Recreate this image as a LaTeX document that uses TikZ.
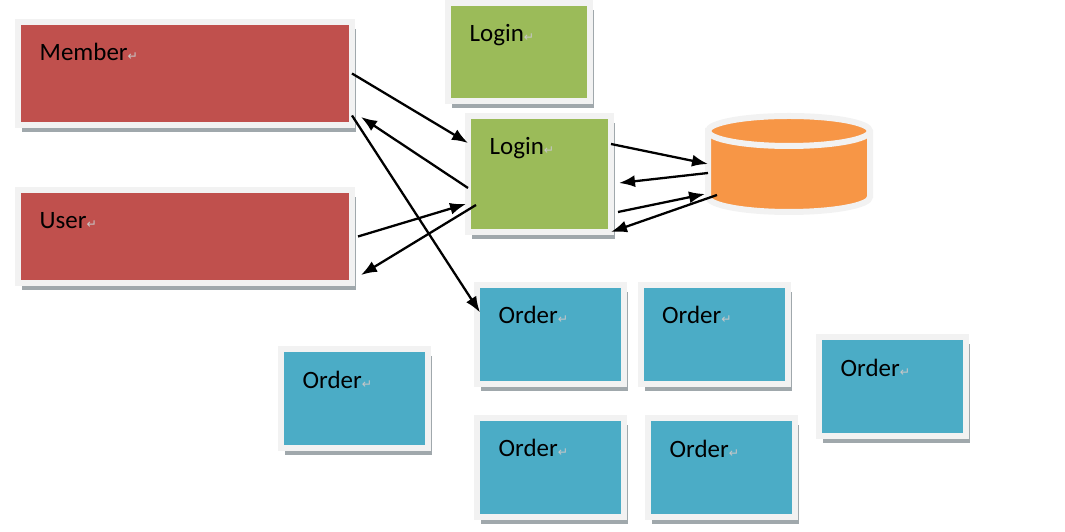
\documentclass[tikz,border=0pt]{standalone}
\usepackage{fontspec}
\setmainfont{Carlito}
\newfontfamily\symbfont{DejaVu Sans}
\usetikzlibrary{arrows.meta,shadows}
\definecolor{memberred}{HTML}{C0504D}
\definecolor{logingreen}{HTML}{9BBB59}
\definecolor{orderblue}{HTML}{4BACC6}
\definecolor{dborange}{HTML}{F79646}
\definecolor{framewhite}{HTML}{F2F2F2}
\definecolor{shadowgray}{HTML}{A0A8AC}
\newcommand{\pmark}{{\color{gray!45}\fontsize{3.5}{4}\selectfont\symbfont ↵}}
\begin{document}
\begin{tikzpicture}[
  box/.style={rectangle, draw=framewhite, line width=0.06cm, outer sep=0pt, inner sep=0pt,
    drop shadow={shadow xshift=0.04cm, shadow yshift=-0.07cm, fill=shadowgray, opacity=1}},
  boxtxt/.style={anchor=base west, xshift=0.21cm, yshift=-0.39cm, inner sep=0pt, font=\fontsize{7.1}{8.5}\selectfont},
  ordbox/.style={box, fill=orderblue, minimum width=1.47cm, minimum height=0.99cm},
  link/.style={-{Latex[length=1.6mm,width=1.2mm]}, line width=0.65pt}
]
\useasboundingbox (0,0) rectangle (10.65,-5.32);
\def\dbrx{0.81}
\def\dbry{0.15}

% Draw the boxes
\node[box, fill=memberred, minimum width=3.34cm, minimum height=1.03cm, label={[boxtxt]north west:Member\pmark}] (member) at (1.85,-0.735) {};
\node[box, fill=memberred, minimum width=3.34cm, minimum height=0.93cm, label={[boxtxt]north west:User\pmark}] (user) at (1.85,-2.365) {};
\node[box, fill=logingreen, minimum width=1.42cm, minimum height=0.98cm, label={[boxtxt]north west:Login\pmark}] (logintop) at (5.19,-0.52) {};
\node[box, fill=logingreen, minimum width=1.43cm, minimum height=1.16cm, label={[boxtxt]north west:Login\pmark}] (login) at (5.395,-1.74) {};
\node[ordbox, label={[boxtxt]north west:Order\pmark}] (orderA) at (5.505,-3.345) {};
\node[ordbox, label={[boxtxt]north west:Order\pmark}] (orderB) at (7.14,-3.345) {};
\node[ordbox, label={[boxtxt]north west:Order\pmark}] (orderC) at (8.925,-3.87) {};
\node[ordbox, label={[boxtxt]north west:Order\pmark}] (orderD) at (3.545,-3.99) {};
\node[ordbox, label={[boxtxt]north west:Order\pmark}] (orderE) at (5.505,-4.675) {};
\node[ordbox, label={[boxtxt]north west:Order\pmark}] (orderF) at (7.215,-4.68) {};

% Database (the node only holds the place, the drum is drawn round it)
\node[minimum width=1.62cm, minimum height=0.96cm, inner sep=0pt, outer sep=0pt] (db) at (7.89,-1.64) {};
\fill[shadowgray!60!dborange, xshift=0.03cm, yshift=-0.06cm]
  ([yshift=-\dbry cm]db.north west) -- ([yshift=\dbry cm]db.south west)
  arc[start angle=180, end angle=360, x radius=\dbrx, y radius=\dbry]
  -- ([yshift=-\dbry cm]db.north east)
  arc[start angle=0, end angle=180, x radius=\dbrx, y radius=\dbry] -- cycle;
\draw[framewhite, line width=0.06cm, fill=dborange]
  ([yshift=-\dbry cm]db.north west) -- ([yshift=\dbry cm]db.south west)
  arc[start angle=180, end angle=360, x radius=\dbrx, y radius=\dbry]
  -- ([yshift=-\dbry cm]db.north east)
  arc[start angle=0, end angle=180, x radius=\dbrx, y radius=\dbry] -- cycle;
\draw[framewhite, line width=0.06cm] ([yshift=-\dbry cm]db.north west)
  arc[start angle=180, end angle=360, x radius=\dbrx, y radius=\dbry];

% Arrows
\draw[link] (member.east) -- ([yshift=0.31cm]login.west);
\draw[link] ([yshift=-0.14cm]login.west) -- ([xshift=0.09cm,yshift=0.08cm]member.south east);
\draw[link] ([yshift=0.095cm]member.south east) -- ([xshift=0.03cm,yshift=0.22cm]orderA.west);
\draw[link] ([xshift=0.06cm]user.east) -- ([xshift=-0.02cm,yshift=-0.3cm]login.west);
\draw[link] ([xshift=0.08cm,yshift=-0.31cm]login.west) -- ([xshift=0.09cm,yshift=0.08cm]user.south east);
\draw[link] ([yshift=0.3cm]login.east) -- (db.west);
\draw[link] ([yshift=-0.09cm]db.west) -- ([xshift=0.08cm,yshift=-0.09cm]login.east);
\draw[link] ([xshift=0.07cm,yshift=-0.38cm]login.east) -- ([xshift=-0.03cm,yshift=-0.3cm]db.west);
\draw[link] ([xshift=0.09cm,yshift=-0.31cm]db.west) -- (login.south east);
\end{tikzpicture}
\end{document}
